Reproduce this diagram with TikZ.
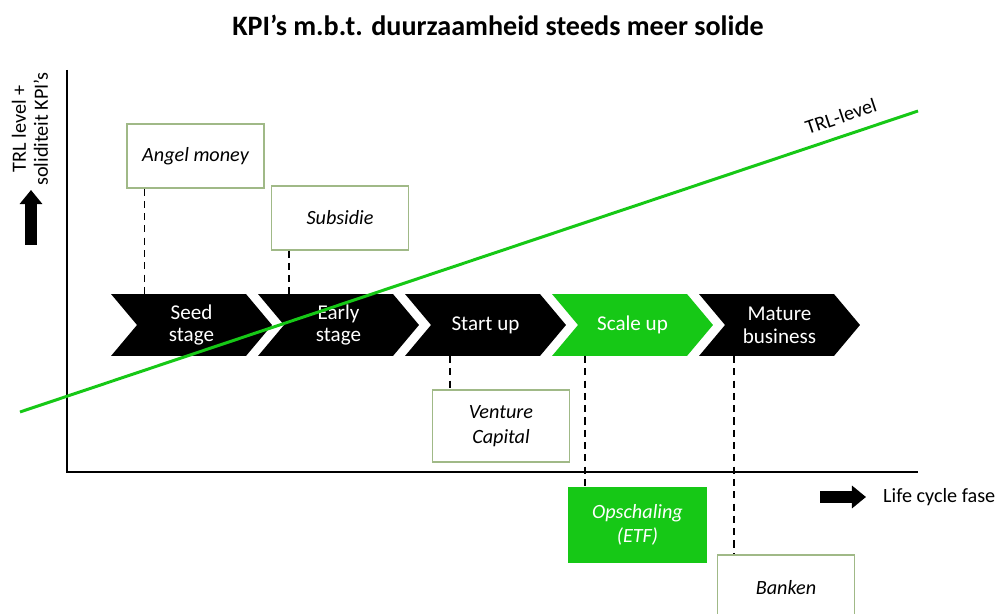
\documentclass[tikz,border=0pt]{standalone}
\usepackage{fontspec}
\setmainfont{Carlito}
\usepackage{tikz}
\usetikzlibrary{positioning,shapes.symbols,arrows.meta}
\definecolor{kpigreen}{RGB}{22,200,22}
\definecolor{boxline}{RGB}{160,185,135}
\tikzstyle{phase} = [signal, signal to=east, signal from=west, signal pointer angle=100, minimum width=3.22cm, minimum height=1.24cm, inner sep=0pt, outer sep=0pt, fill=black, text=white, align=center, font=\fontsize{12}{13}\selectfont]
\tikzstyle{funding} = [rectangle, draw=boxline, line width=0.6pt, minimum width=2.74cm, minimum height=1.28cm, align=center, font=\fontsize{11.5}{14}\selectfont\itshape]
\tikzstyle{link} = [dash pattern=on 4pt off 3pt, line width=0.9pt]
\tikzstyle{axis} = [line width=1.1pt]
\tikzstyle{trl} = [draw=kpigreen, line width=1.7pt]
\tikzstyle{blockarrow} = [line width=6.5pt, -{Triangle[width=12.5pt,length=8pt]}]
\tikzstyle{label} = [font=\fontsize{11.5}{12.5}\selectfont]

\begin{document}
\begin{tikzpicture}[x=0.02cm,y=-0.02cm]
\useasboundingbox (0,0) rectangle (997,614);
\clip (0,0) rectangle (997,614);
\node[font=\fontsize{16}{18}\selectfont\bfseries] (title) at (498,25)
          {KPI’s m.b.t. duurzaamheid steeds meer solide};
% assen
\coordinate (origin) at (67,472);
\coordinate (ytop) at (67,70);
\coordinate (xend) at (918,472);
\draw[axis] (ytop) -- (origin) -- (xend);
\node[label, rotate=90, align=center] (ylabel) at (30,129)
          {TRL level +\\soliditeit KPI’s};
\coordinate (upfoot) at (31,245);
\coordinate (uptip) at (31,190);
\draw[blockarrow] (upfoot) -- (uptip);
\coordinate (rightfoot) at (820,497);
\coordinate (righttip) at (866,497);
\draw[blockarrow] (rightfoot) -- (righttip);
\node[label, anchor=west] (xlabel) at (877,497) {Life cycle fase};
% financiering
\node[funding] (angel) at (195.5,156) {Angel money};
\node[funding] (subsidie) at (340,218) {Subsidie};
\node[funding, minimum height=1.44cm] (venture) at (501,426) {Venture\\Capital};
\node[funding, fill=kpigreen, draw=kpigreen, text=white, minimum height=1.48cm] (opschaling) at (637.5,525)
          {Opschaling\\(ETF)};
\node[funding, minimum height=1.32cm] (banken) at (786,588) {Banken};
% fases
\node[phase] (seed) at (191.5,325) {Seed\\stage};
\node[phase] (early) at (338.5,325) {Early\\stage};
\node[phase] (startup) at (485.5,325) {Start up};
\node[phase, fill=kpigreen] (scaleup) at (632.5,325) {Scale up};
\node[phase] (mature) at (779.5,325) {Mature\\business};
\draw[link] ([xshift=0.36cm]angel.south west) -- ([xshift=0.36cm]angel.south west |- seed.north);
\draw[link] ([xshift=0.36cm]subsidie.south west) -- ([xshift=0.36cm]subsidie.south west |- early.north);
\draw[link] ([xshift=0.36cm]venture.north west |- startup.south) -- ([xshift=0.36cm]venture.north west);
\draw[link] ([xshift=0.33cm]opschaling.north west |- scaleup.south) -- ([xshift=0.33cm]opschaling.north west);
\draw[link] ([xshift=0.34cm]banken.north west |- mature.south) -- ([xshift=0.34cm]banken.north west);
% TRL lijn
\coordinate (trlstart) at (20,412);
\coordinate (trlend) at (918,111);
\draw[trl] (trlstart) -- (trlend) node[label, pos=0.921, sloped, above=0.1cm, text=black] {TRL-level};
\end{tikzpicture}
\end{document}
